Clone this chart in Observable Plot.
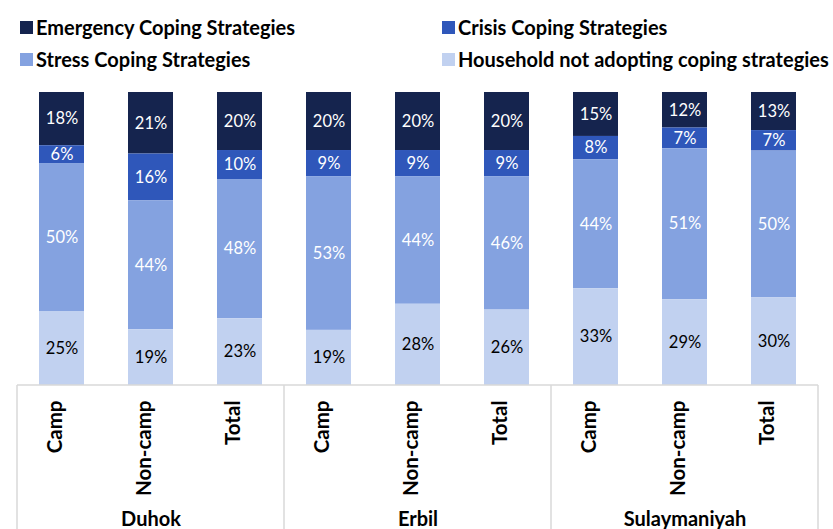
<!DOCTYPE html>
<html>
<head>
<meta charset="utf-8">
<script src="https://cdn.jsdelivr.net/npm/d3@7"></script>
<script src="https://cdn.jsdelivr.net/npm/@observablehq/plot@0.6"></script>
<style>
  body { margin: 0; background: #fff; font-family: Lato, "Open Sans", sans-serif; }
  #wrap { position: relative; width: 833px; height: 529px; overflow: hidden; }
  #legend { position: relative; height: 80px; }
  .li { position: absolute; display: flex; align-items: center; font-weight: bold; font-size: 20px; color: #000; white-space: nowrap; }
  .sw { width: 13px; height: 13px; margin-right: 3px; }
  svg { display: block; }
</style>
</head>
<body>
<div id="wrap">
  <div id="legend"></div>
  <div id="chart"></div>
</div>
<script>
const governorates = ["Duhok", "Erbil", "Sulaymaniyah"];
const locations = ["Camp", "Non-camp", "Total"];
const strategies = ["Emergency Coping Strategies", "Crisis Coping Strategies", "Stress Coping Strategies", "Household not adopting coping strategies"];
const colors = ["#15244e", "#2f57ba", "#84a2e0", "#c1d1f0"];
// values per bar, in order: Duhok Camp, Non-camp, Total, Erbil ..., Sulaymaniyah ...
const emergency = [18, 21, 20, 20, 20, 20, 15, 12, 13];
const crisis    = [6, 16, 10, 9, 9, 9, 8, 7, 7];
const stress    = [50, 44, 48, 53, 44, 46, 44, 51, 50];
const household = [25, 19, 23, 19, 28, 26, 33, 29, 30];
const seriesValues = [emergency, crisis, stress, household];

// legend
const legend = document.getElementById("legend");
const legendPos = [[20, 27], [442, 27], [20, 59], [442, 59]];
strategies.forEach((s, i) => {
  const d = document.createElement("div");
  d.className = "li";
  d.style.left = legendPos[i][0] + "px";
  d.style.top = (legendPos[i][1] - 12) + "px";
  d.style.height = "24px";
  d.innerHTML = `<span class="sw" style="background:${colors[i]}"></span>${s}`;
  legend.appendChild(d);
});

// table
const bars = [];
governorates.forEach((g, gi) => locations.forEach((l, li) => bars.push({gov: g, loc: l, key: g + "|" + l, idx: gi * 3 + li})));
const rows = [];
bars.forEach(b => strategies.forEach((s, si) => rows.push({...b, strategy: s, value: seriesValues[si][b.idx]})));
const stackOrder = [strategies[3], strategies[2], strategies[1], strategies[0]];
const keys = bars.map(b => b.key);

function frameLines(index, scales, values, dim) {
  const x = scales.x, y = scales.y;
  const step = x(keys[1]) - x(keys[0]);
  const bw = x.bandwidth ? x.bandwidth() : step / 2;
  const y0 = y(0);
  const g = d3.create("svg:g").attr("stroke", "#d9d9d9").attr("stroke-width", 1.5);
  const left = x(keys[0]) + bw / 2 - step / 2;
  const right = x(keys[keys.length - 1]) + bw / 2 + step / 2;
  g.append("line").attr("x1", left).attr("x2", right).attr("y1", y0).attr("y2", y0);
  const seps = [0, 3, 6].map(i => x(keys[i]) + bw / 2 - step / 2).concat([right]);
  seps.forEach(sx => g.append("line").attr("x1", sx).attr("x2", sx).attr("y1", y0).attr("y2", dim.height));
  return g.node();
}

const stackOpts = {x: "key", y: "value", z: "strategy", order: stackOrder, offset: "normalize"};
const isHH = d => d.strategy === strategies[3];

const chart = Plot.plot({
  width: 833,
  height: 449,
  marginLeft: 13,
  marginRight: 12,
  marginTop: 12,
  marginBottom: 144,
  style: {fontFamily: "Lato, 'Open Sans', sans-serif", background: "#fff"},
  x: {domain: keys, paddingInner: 0.5, paddingOuter: 0.25, axis: null},
  y: {domain: [0, 1], axis: null},
  color: {domain: strategies, range: colors},
  marks: [
    Plot.barY(rows, Plot.stackY({...stackOpts, fill: "strategy"})),
    Plot.text(rows, Plot.filter(d => !isHH(d), Plot.stackY({...stackOpts, text: d => d.value + "%", fill: "white", fontSize: 16.5}))),
    Plot.text(rows, Plot.filter(isHH, Plot.stackY({...stackOpts, text: d => d.value + "%", fill: "black", fontSize: 16.5}))),
    frameLines,
    Plot.text(bars, {x: "key", text: "loc", frameAnchor: "bottom", rotate: -90, textAnchor: "end",
      dy: 15, fontWeight: "bold", fontSize: 20.5, fill: "black"}),
    Plot.text(bars.filter(b => b.loc === "Non-camp"), {x: "key", text: "gov", frameAnchor: "bottom",
      dy: 140, fontWeight: "bold", fontSize: 20, fill: "black"})
  ]
});
document.getElementById("chart").appendChild(chart);
</script>
</body>
</html>
